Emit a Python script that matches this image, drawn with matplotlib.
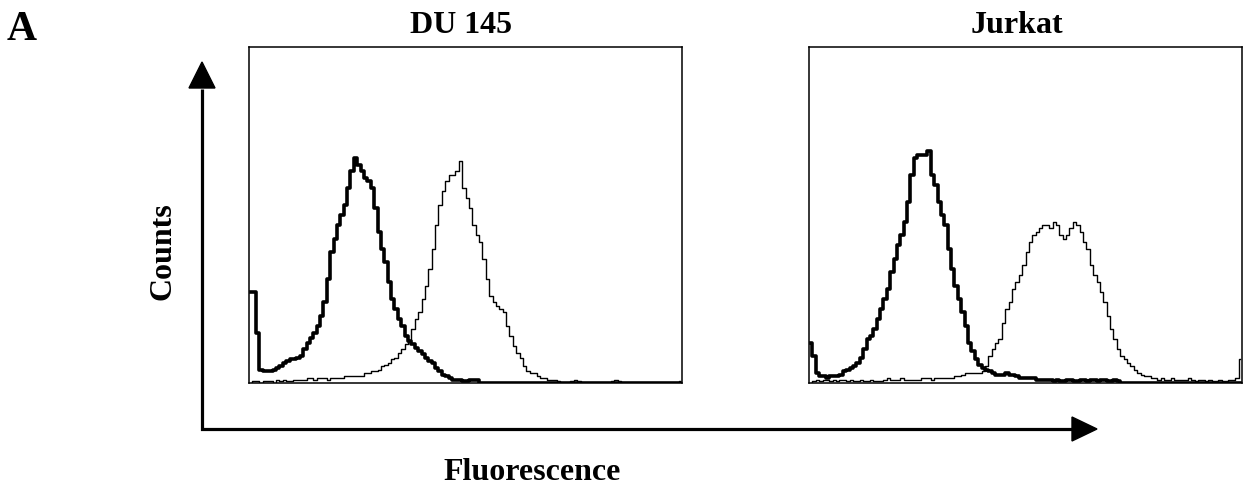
import matplotlib
matplotlib.use("Agg")
import matplotlib.pyplot as plt
from matplotlib.patches import Polygon
import numpy as np

# ---------------- data (counts as % of panel height, 128 channels) -------------
panel_titles = ["DU 145", "Jurkat"]
x_label = "Fluorescence"
y_label = "Counts"
panel_letter = "A"

du145_control = [
    27, 27, 15, 4, 3.5, 3.5, 3.5, 4, 4.5, 5,
    6, 6.5, 7, 7, 7.5, 8, 10, 12, 13.5, 15,
    17, 20, 24, 31, 39, 43, 47, 50, 53, 58,
    63, 67, 65, 63, 61, 60, 58, 52, 45, 40,
    36, 30, 25, 22, 19, 17, 14, 12.5, 11.5, 10.5,
    9.5, 8.5, 7.5, 6.5, 6, 4.5, 3.5, 2.5, 2, 1.5,
    1, 1, 1, 0.5, 0.5, 1, 1, 1, 0, 0,
    0, 0, 0, 0, 0, 0, 0, 0, 0, 0,
    0, 0, 0, 0, 0, 0, 0, 0, 0, 0,
    0, 0, 0, 0, 0, 0, 0, 0, 0, 0,
    0, 0, 0, 0, 0, 0, 0, 0, 0, 0,
    0, 0, 0, 0, 0, 0, 0, 0, 0, 0,
    0, 0, 0, 0, 0, 0, 0, 0,
]

du145_stained = [
    0, 0.5, 0.5, 0, 0.5, 0.5, 0.5, 0, 1, 0.5,
    1, 0.5, 0.5, 1, 1, 1, 1, 1.5, 1.5, 1,
    1.5, 1.5, 1.5, 1, 1.5, 1.5, 1.5, 1.5, 2, 2,
    2, 2, 2, 2, 3, 3, 3.5, 3.5, 4, 5,
    5.5, 6, 7, 7.5, 9, 10, 11.5, 12.5, 16, 19,
    21, 25, 29, 34, 40, 47, 53, 57, 60, 62,
    62, 63, 66, 58, 55, 52, 47, 44, 42, 37,
    31, 26, 24, 23, 22, 21, 17, 14, 11, 9,
    7.5, 5, 3.5, 3, 3, 2, 1.5, 1.5, 1, 1,
    1, 0.5, 0, 0, 0, 0.5, 1, 0.5, 0, 0,
    0, 0, 0, 0, 0, 0, 0, 0.5, 1, 0.5,
    0, 0, 0, 0, 0, 0, 0, 0, 0, 0,
    0, 0, 0, 0, 0, 0, 0, 0.5,
]

jurkat_control = [
    12, 8, 3, 2, 2, 1.5, 2, 2, 2, 2.5,
    3.5, 4, 4.5, 5, 6, 7.5, 10, 13, 14, 16,
    19, 22, 25, 28, 33, 37, 41, 44, 48, 54,
    62, 67, 68, 68, 68, 69, 62, 59, 54, 50,
    47, 40, 34, 29, 25, 21, 17, 12, 9.5, 7,
    5.5, 4.5, 4, 3.5, 3, 2.5, 2.5, 2.5, 3, 2.5,
    2.5, 2, 1.5, 1.5, 1.5, 1.5, 1.5, 1, 1, 1,
    1, 1, 0.5, 1, 0.5, 0.5, 1, 1, 0.5, 0.5,
    1, 1, 0.5, 1, 1, 0.5, 1, 1, 0.5, 0.5,
    1, 0.5, 0, 0, 0, 0, 0, 0, 0, 0,
    0, 0, 0, 0, 0, 0, 0, 0, 0, 0,
    0, 0, 0, 0, 0, 0, 0, 0, 0, 0,
    0, 0, 0, 0, 0, 0, 0, 0,
]

jurkat_stained = [
    0, 0.5, 1, 0.5, 1, 1, 0.5, 1, 0.5, 1,
    1, 0.5, 1, 0.5, 0.5, 1, 0.5, 0.5, 1, 0.5,
    0.5, 0.5, 1, 1.5, 1, 1, 1, 1.5, 1, 1,
    1, 1, 1, 1.5, 1.5, 1.5, 1, 1.5, 1.5, 1.5,
    1.5, 1.5, 1.5, 2, 2, 2.5, 3, 3, 3, 3,
    3, 3.5, 5, 8, 10, 12, 13, 18, 22, 24,
    28, 30, 32, 35, 39, 42, 44, 45, 46, 47,
    47, 46, 48, 47, 44, 43, 44, 46, 48, 47,
    45, 42, 40, 35, 32, 30, 27, 24, 20, 16,
    13, 10, 8, 7, 6, 5, 4, 3, 2.5, 2,
    2, 1.5, 1.5, 1, 1.5, 1, 1, 1.5, 1, 1,
    1, 1, 1.5, 1, 0.5, 1, 1, 0.5, 1, 0.5,
    0.5, 1, 0.5, 0.5, 1, 1, 1.5, 7,
]

panels = [(du145_control, du145_stained), (jurkat_control, jurkat_stained)]

# ---------------- figure ----------------
W, H = 1254, 489
fig = plt.figure(figsize=(W / 100, H / 100), dpi=100)
fig.patch.set_facecolor("white")
serif = ["Liberation Serif", "DejaVu Serif"]

# overlay for arrows (pixel coordinates)
ov = fig.add_axes([0, 0, 1, 1])
ov.set_xlim(0, W)
ov.set_ylim(H, 0)
ov.axis("off")
ov.plot([202, 202, 1074], [90, 430, 430], color="black", lw=2.3,
        solid_joinstyle="miter", solid_capstyle="butt")
ov.add_patch(Polygon([[189, 89], [215, 89], [202, 63]], closed=True,
                     color="black"))
ov.add_patch(Polygon([[1072, 418], [1072, 442], [1097, 430]], closed=True,
                     color="black"))

box_left = [249, 809]
box_w, box_top, box_bot = 433, 48, 384
title_x = [461, 1017]

for i, (ctrl, stain) in enumerate(panels):
    ax = fig.add_axes([box_left[i] / W, (H - box_bot) / H,
                       box_w / W, (box_bot - box_top) / H])
    n = len(ctrl)
    x = np.arange(n)
    ax.plot(x, stain, drawstyle="steps-mid", color="black", lw=1.0)
    ax.plot(x, ctrl, drawstyle="steps-mid", color="black", lw=2.6)
    ax.set_xlim(-0.5, n - 0.5)
    ax.set_ylim(0, 100)
    ax.set_xticks([])
    ax.set_yticks([])
    for s in ax.spines.values():
        s.set_linewidth(1.1)
        s.set_color("black")
    fig.text(title_x[i] / W, 1 - 33 / H, panel_titles[i], ha="center",
             va="baseline", fontsize=23, fontweight="bold", family=serif)

fig.text(22 / W, 1 - 40 / H, panel_letter, ha="center", va="baseline",
         fontsize=30, fontweight="bold", family=serif)
fig.text(532 / W, 1 - 480 / H, x_label, ha="center", va="baseline",
         fontsize=23, fontweight="bold", family=serif)
fig.text(163 / W, 1 - 251 / H, y_label, ha="center", va="center",
         rotation=90, fontsize=23, fontweight="bold", family=serif)

fig.savefig("out.png", dpi=100, facecolor="white")
